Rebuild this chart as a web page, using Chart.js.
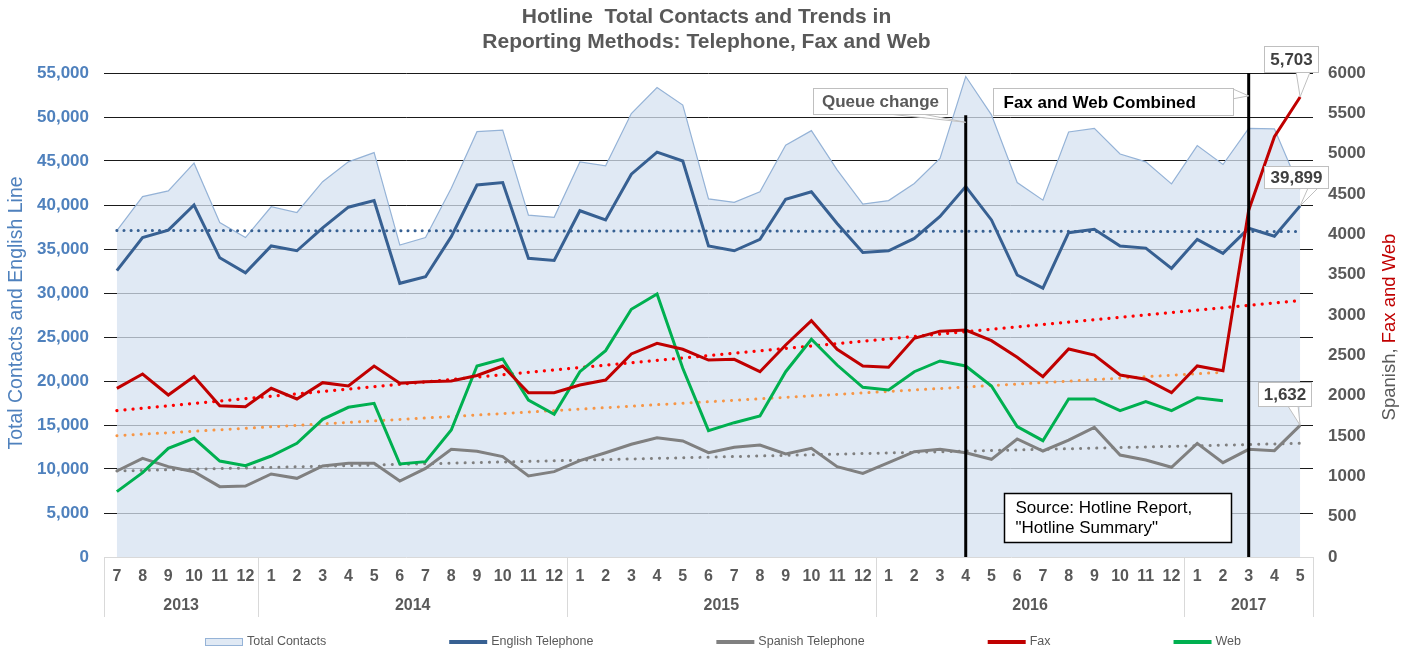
<!DOCTYPE html>
<html>
<head>
<meta charset="utf-8">
<title>Hotline Total Contacts and Trends</title>
<script src="https://cdn.jsdelivr.net/npm/chart.js@4/dist/chart.umd.min.js"></script>
<style>
  html, body { margin: 0; padding: 0; background: #fff; }
  #wrap { width: 1413px; height: 650px; }
</style>
</head>
<body>
<div id="wrap"><canvas id="chart" width="1413" height="650"></canvas></div>
<script>
const FONT = "'Liberation Sans', Arial, sans-serif";

// -----------------------------
// Data
// -----------------------------
const monthLabels = [
  '7', '8', '9', '10', '11', '12',
  '1', '2', '3', '4', '5', '6', '7', '8', '9', '10', '11', '12',
  '1', '2', '3', '4', '5', '6', '7', '8', '9', '10', '11', '12',
  '1', '2', '3', '4', '5', '6', '7', '8', '9', '10', '11', '12',
  '1', '2', '3', '4', '5'
];
const yearLabels = ['2013', '2014', '2015', '2016', '2017'];
const yearStartIndex = [0, 6, 18, 30, 42];

// left axis
const totalContacts = [
  37100, 40950, 41600, 44750, 38000, 36300,
  39800, 39150, 42650, 44900, 45950, 35450, 36300, 41900, 48330, 48500, 38850, 38600,
  44900, 44450, 50400, 53350, 51350, 40700, 40300, 41500, 46800, 48450, 44000, 40100,
  40500, 42450, 45300, 54600, 50250, 42550, 40550, 48300, 48700, 45800, 44900, 42400,
  46750, 44600, 48700, 48650, 41800
];
const englishTelephone = [
  32550, 36300, 37150, 40000, 34000, 32300,
  35350, 34800, 37400, 39750, 40500, 31100, 31850, 36400, 42270, 42550, 33950, 33700,
  39350, 38300, 43500, 46000, 45000, 35350, 34800, 36100, 40650, 41500, 37900, 34600,
  34800, 36200, 38700, 42100, 38300, 32050, 30550, 36850, 37250, 35350, 35100, 32800,
  36100, 34500, 37350, 36450, 39899
];

// right axis
const spanishTelephone = [
  1066, 1223, 1120, 1058, 872, 880,
  1029, 975, 1128, 1161, 1161, 942, 1099, 1335, 1310, 1244, 1004, 1058,
  1194, 1293, 1397, 1479, 1438, 1293, 1360, 1388, 1277, 1347, 1120, 1037,
  1169, 1306, 1335, 1293, 1211, 1463, 1314, 1450, 1608, 1264, 1202, 1112,
  1409, 1169, 1335, 1318, 1632
];
// from 3/2017 on this is fax and web combined
const fax = [
  2091, 2269, 2008, 2236, 1876, 1864,
  2091, 1959, 2161, 2120, 2368, 2153, 2174, 2182, 2250, 2368, 2037, 2037,
  2132, 2194, 2517, 2649, 2575, 2442, 2451, 2297, 2628, 2930, 2575, 2368,
  2352, 2711, 2800, 2814, 2682, 2475, 2236, 2579, 2504, 2256, 2203, 2037,
  2368, 2310, 4300, 5211, 5703
];
const web = [
  810, 1045, 1347, 1471, 1190, 1132,
  1252, 1409, 1707, 1856, 1905, 1153, 1182, 1574, 2368, 2455, 1946, 1769,
  2297, 2558, 3071, 3260, 2339, 1566, 1665, 1748, 2297, 2699, 2380, 2104,
  2070, 2297, 2430, 2368, 2120, 1616, 1442, 1959, 1959, 1814, 1926, 1814,
  1975, 1938, null, null, null
];

// trend lines: [first index, last index, first value, last value]
const englishTrend = [0, 46, 37100, 36980];
const faxTrend = [0, 46, 1814, 3178];
const webTrend = [0, 43, 1504, 2290];
const spanishTrend = [0, 46, 1066, 1409];

// -----------------------------
// Helpers
// -----------------------------
function trendSeries(t) {
  const arr = new Array(monthLabels.length).fill(null);
  arr[t[0]] = t[2];
  arr[t[1]] = t[3];
  return arr;
}

const fmt = (v) => v.toLocaleString('en-US');

const AREA_FILL = 'rgba(214, 225, 240, 0.75)';

function lineDs(label, data, color, axis, order) {
  return {
    label, data, yAxisID: axis, order,
    borderColor: color, backgroundColor: color,
    borderWidth: 3, pointRadius: 0, tension: 0, fill: false
  };
}

function trendDs(label, t, color, axis, width, gap) {
  return {
    label, data: trendSeries(t), yAxisID: axis, order: 5, isTrend: true,
    borderColor: color, borderWidth: width, borderDash: [0.1, gap],
    borderCapStyle: 'round', pointRadius: 0, spanGaps: true, fill: false
  };
}

// -----------------------------
// Annotations
// -----------------------------
const markerLines = [
  { index: 33, top: 50200 },
  { index: 44, top: 55000 }
];

// box and pointer are placed relative to the tip (the point they talk about)
const callouts = [
  { text: 'Queue change', index: 33, axis: 'y', value: 49400, bold: true, color: '#595959', align: 'center',
    box: [-153, -34, 134, 26], base: [[-75, -8], [-42, -8]] },
  { text: 'Fax and Web Combined', index: 44, axis: 'y', value: 52400, bold: true, color: '#000', align: 'left',
    box: [-256, -8, 240, 27], base: [[-16, -7], [-16, 3]] },
  { text: fmt(fax[46]), index: 46, axis: 'y1', value: fax[46], bold: true, color: '#404040', align: 'center',
    box: [-36, -51, 54, 26], base: [[-4, -25], [10, -25]] },
  { text: fmt(englishTelephone[46]), index: 46, axis: 'y', value: englishTelephone[46], bold: true, color: '#404040', align: 'center',
    box: [-36, -40, 64, 22], base: [[8, -18], [18, -18]] },
  { text: fmt(spanishTelephone[46]), index: 46, axis: 'y1', value: spanishTelephone[46], bold: true, color: '#404040', align: 'center',
    box: [-42, -43, 53, 24], base: [[-12, -19], [-2, -19]] }
];

function drawYearRow(chart) {
  const { ctx, chartArea, scales: { x } } = chart;
  const half = (x.getPixelForValue(1) - x.getPixelForValue(0)) / 2;
  const top = chartArea.bottom;
  const bottom = chartArea.bottom + 60;
  ctx.save();
  ctx.strokeStyle = '#D9D9D9';
  ctx.lineWidth = 1;
  ctx.font = `bold 16px ${FONT}`;
  ctx.fillStyle = '#595959';
  ctx.textAlign = 'center';
  ctx.textBaseline = 'middle';
  const vline = (px) => {
    const p = Math.round(px) + 0.5;
    ctx.beginPath();
    ctx.moveTo(p, top);
    ctx.lineTo(p, bottom);
    ctx.stroke();
  };
  yearLabels.forEach((yr, i) => {
    const first = yearStartIndex[i];
    const last = i + 1 < yearStartIndex.length ? yearStartIndex[i + 1] - 1 : monthLabels.length - 1;
    const left = x.getPixelForValue(first) - half;
    const right = x.getPixelForValue(last) + half;
    vline(left);
    if (i === yearLabels.length - 1) vline(right);
    ctx.fillText(yr, (left + right) / 2, top + 49);
  });
  ctx.restore();
}

function drawLegend(chart) {
  const { ctx, chartArea } = chart;
  const items = chart.data.datasets.filter((ds) => !ds.isTrend);
  const y = 642;
  let cx = chartArea.left + 101;
  ctx.save();
  ctx.font = `12.5px ${FONT}`;
  ctx.textBaseline = 'middle';
  ctx.textAlign = 'left';
  items.forEach((ds) => {
    if (ds.fill) {
      ctx.fillStyle = ds.backgroundColor;
      ctx.fillRect(cx, y - 4, 38, 8);
      ctx.strokeStyle = ds.borderColor;
      ctx.lineWidth = 1;
      ctx.strokeRect(cx + 0.5, y - 3.5, 37, 7);
    } else {
      ctx.strokeStyle = ds.borderColor;
      ctx.lineWidth = 4;
      ctx.beginPath();
      ctx.moveTo(cx, y);
      ctx.lineTo(cx + 38, y);
      ctx.stroke();
    }
    ctx.fillStyle = '#595959';
    ctx.fillText(ds.label, cx + 42, y);
    cx += 42 + ctx.measureText(ds.label).width + 123;
  });
  ctx.restore();
}

function drawAxisTitles(chart) {
  const { ctx, chartArea } = chart;
  const midY = (chartArea.top + chartArea.bottom) / 2;
  ctx.save();
  ctx.font = `19.5px ${FONT}`;
  ctx.textBaseline = 'middle';
  ctx.textAlign = 'center';
  ctx.fillStyle = '#4F81BD';
  ctx.translate(17, midY - 2);
  ctx.rotate(-Math.PI / 2);
  ctx.fillText('Total Contacts and English Line', 0, 0);
  ctx.restore();

  // right title in two colours
  ctx.save();
  ctx.font = `18.5px ${FONT}`;
  ctx.textBaseline = 'middle';
  ctx.textAlign = 'left';
  const partA = 'Spanish, ';
  const partB = 'Fax and Web';
  const wA = ctx.measureText(partA).width;
  const wB = ctx.measureText(partB).width;
  ctx.translate(chartArea.right + 77, midY + 12);
  ctx.rotate(-Math.PI / 2);
  ctx.fillStyle = '#595959';
  ctx.fillText(partA, -(wA + wB) / 2, 0);
  ctx.fillStyle = '#C00000';
  ctx.fillText(partB, -(wA + wB) / 2 + wA, 0);
  ctx.restore();
}

function drawCallouts(chart) {
  const { ctx, scales } = chart;
  ctx.save();
  callouts.forEach((c) => {
    const tx = scales.x.getPixelForValue(c.index);
    const ty = scales[c.axis].getPixelForValue(c.value);
    const [bx, by, bw, bh] = c.box;
    const left = Math.round(tx + bx) + 0.5;
    const top = Math.round(ty + by) + 0.5;

    // pointer
    ctx.beginPath();
    ctx.moveTo(tx + c.base[0][0], ty + c.base[0][1]);
    ctx.lineTo(tx, ty);
    ctx.lineTo(tx + c.base[1][0], ty + c.base[1][1]);
    ctx.closePath();
    ctx.fillStyle = '#fff';
    ctx.fill();
    ctx.strokeStyle = '#BFBFBF';
    ctx.lineWidth = 1;
    ctx.stroke();

    // box
    ctx.fillStyle = '#fff';
    ctx.fillRect(left, top, bw, bh);
    ctx.strokeRect(left, top, bw, bh);

    ctx.font = `${c.bold ? 'bold ' : ''}17px ${FONT}`;
    ctx.fillStyle = c.color;
    ctx.textBaseline = 'middle';
    ctx.textAlign = c.align;
    const textX = c.align === 'left' ? left + 10 : left + bw / 2;
    ctx.fillText(c.text, textX, top + bh / 2 + 1);
  });
  ctx.restore();
}

function drawSourceBox(chart) {
  const { ctx, chartArea } = chart;
  const left = Math.round(chartArea.right - 309) + 0.5;
  const top = Math.round(chartArea.bottom - 64) + 0.5;
  ctx.save();
  ctx.fillStyle = '#fff';
  ctx.fillRect(left, top, 227, 49);
  ctx.strokeStyle = '#000';
  ctx.lineWidth = 1.5;
  ctx.strokeRect(left, top, 227, 49);
  ctx.fillStyle = '#000';
  ctx.font = `17px ${FONT}`;
  ctx.textBaseline = 'middle';
  ctx.textAlign = 'left';
  ctx.fillText('Source: Hotline Report,', left + 11, top + 15);
  ctx.fillText('"Hotline Summary"', left + 11, top + 35);
  ctx.restore();
}

const hotlineExtras = {
  id: 'hotlineExtras',
  afterDatasetsDraw(chart) {
    const { ctx, chartArea, scales: { x, y } } = chart;
    ctx.save();
    ctx.strokeStyle = '#000';
    ctx.lineWidth = 3;
    markerLines.forEach((m) => {
      const px = x.getPixelForValue(m.index);
      ctx.beginPath();
      ctx.moveTo(px, y.getPixelForValue(m.top));
      ctx.lineTo(px, chartArea.bottom);
      ctx.stroke();
    });
    ctx.restore();
  },
  afterDraw(chart) {
    drawYearRow(chart);
    drawLegend(chart);
    drawAxisTitles(chart);
    drawCallouts(chart);
    drawSourceBox(chart);
  }
};

// -----------------------------
// Chart
// -----------------------------
new Chart(document.getElementById('chart'), {
  type: 'line',
  data: {
    labels: monthLabels,
    datasets: [
      {
        label: 'Total Contacts', data: totalContacts, yAxisID: 'y', order: 10,
        fill: 'origin', backgroundColor: AREA_FILL, borderColor: '#95B3D7',
        borderWidth: 1.2, pointRadius: 0, tension: 0
      },
      lineDs('English Telephone', englishTelephone, '#376092', 'y', 3),
      lineDs('Spanish Telephone', spanishTelephone, '#808080', 'y1', 4),
      lineDs('Fax', fax, '#C00000', 'y1', 1),
      lineDs('Web', web, '#00B050', 'y1', 2),
      trendDs('English trend', englishTrend, '#376092', 'y', 3, 7),
      trendDs('Fax trend', faxTrend, '#FF0000', 'y1', 3.2, 8),
      trendDs('Web trend', webTrend, '#F79646', 'y1', 3, 8),
      trendDs('Spanish trend', spanishTrend, '#808080', 'y1', 3, 8)
    ]
  },
  options: {
    responsive: false,
    animation: false,
    events: [],
    layout: { padding: 0 },
    plugins: {
      legend: { display: false },
      tooltip: { enabled: false },
      title: {
        display: true,
        text: ['Hotline  Total Contacts and Trends in', 'Reporting Methods: Telephone, Fax and Web'],
        color: '#595959',
        font: { family: FONT, size: 21, weight: 'bold', lineHeight: 1.2 },
        padding: { top: 4.4, bottom: 18.2 }
      }
    },
    scales: {
      x: {
        type: 'category',
        offset: true,
        grid: { display: false, drawTicks: false },
        border: { display: true, color: '#D9D9D9', width: 1 },
        ticks: {
          color: '#595959', font: { family: FONT, size: 16, weight: 'bold' },
          padding: 10, maxRotation: 0, autoSkip: false
        },
        afterFit: (s) => { s.height = 93; }
      },
      y: {
        position: 'left', min: 0, max: 55000,
        ticks: {
          stepSize: 5000, padding: 15, color: '#4F81BD',
          font: { family: FONT, size: 17, weight: 'bold' },
          callback: (v) => fmt(v)
        },
        grid: {
          color: (c) => (c.tick && c.tick.value === 0 ? 'rgba(0,0,0,0)' : '#1a1a1a'),
          lineWidth: 1, drawTicks: false
        },
        border: { display: false },
        afterFit: (s) => { s.width = 104; }
      },
      y1: {
        position: 'right', min: 0, max: 6000,
        ticks: {
          stepSize: 500, padding: 15, color: '#595959',
          font: { family: FONT, size: 17, weight: 'bold' },
          callback: (v) => String(v)
        },
        grid: { display: false, drawTicks: false },
        border: { display: false },
        afterFit: (s) => { s.width = 100; }
      }
    }
  },
  plugins: [hotlineExtras]
});
</script>
</body>
</html>
